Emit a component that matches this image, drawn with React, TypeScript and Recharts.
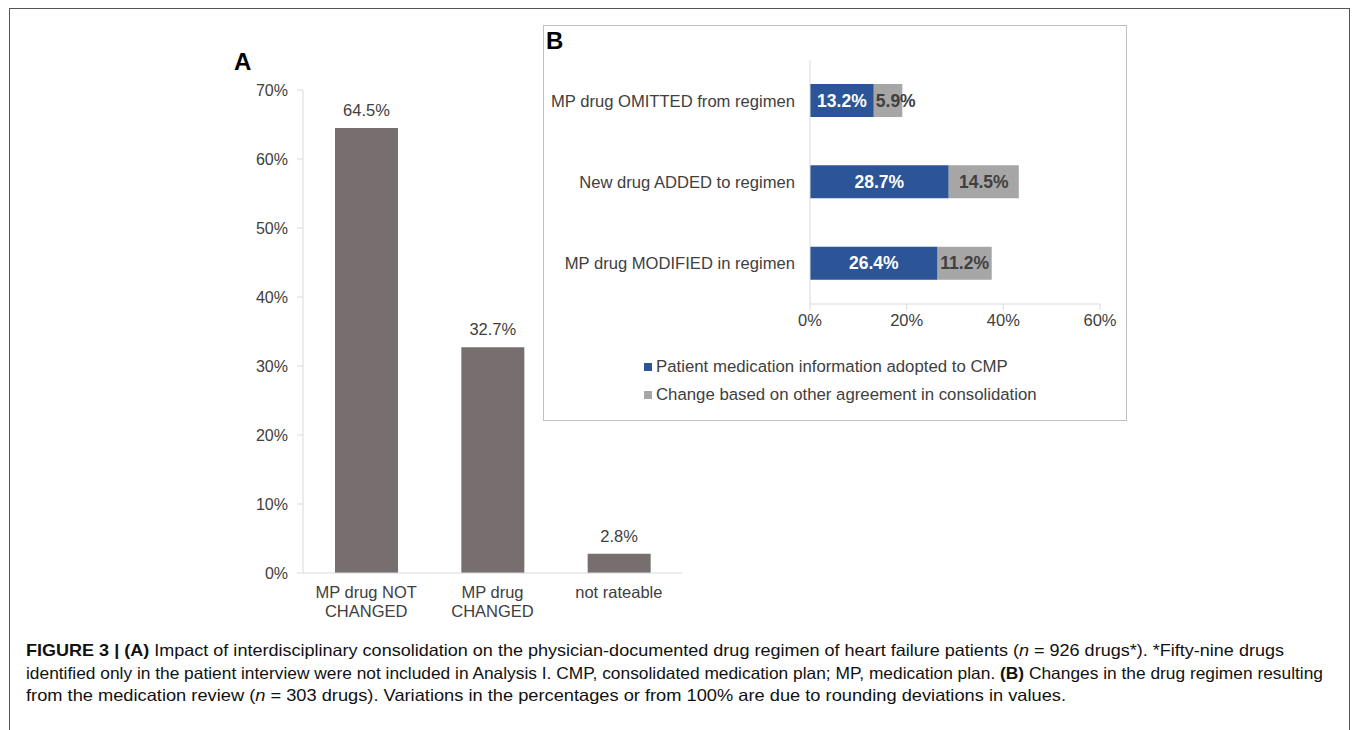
import { BarChart, Bar, XAxis, YAxis, LabelList } from 'recharts';

// Panel A: impact of consolidation on documented regimen
const categoriesA = ['MP drug NOT\nCHANGED', 'MP drug\nCHANGED', 'not rateable'];
const valuesA = [64.5, 32.7, 2.8];
const ticksA = [0, 10, 20, 30, 40, 50, 60, 70];

// Panel B: changes resulting from medication review
const categoriesB = ['MP drug OMITTED from regimen', 'New drug ADDED to regimen', 'MP drug MODIFIED in regimen'];
const adoptedB = [13.2, 28.7, 26.4];
const otherB = [5.9, 14.5, 11.2];
const ticksB = [0, 20, 40, 60];
const seriesNamesB = ['Patient medication information adopted to CMP', 'Change based on other agreement in consolidation'];

const captionLines = [
  [
    { t: 'FIGURE 3 | (A)', b: true },
    { t: ' Impact of interdisciplinary consolidation on the physician-documented drug regimen of heart failure patients (' },
    { t: 'n', i: true },
    { t: ' = 926 drugs*). *Fifty-nine drugs' },
  ],
  [
    { t: 'identified only in the patient interview were not included in Analysis I. CMP, consolidated medication plan; MP, medication plan. ' },
    { t: '(B)', b: true },
    { t: ' Changes in the drug regimen resulting' },
  ],
  [
    { t: 'from the medication review (' },
    { t: 'n', i: true },
    { t: ' = 303 drugs). Variations in the percentages or from 100% are due to rounding deviations in values.' },
  ],
];
const captionEnds = [1284, 1323, 1066];

const dataA = categoriesA.map((name, i) => ({ name, value: valuesA[i] }));
const dataB = categoriesB.map((name, i) => ({ name, adopted: adoptedB[i], other: otherB[i] }));

const BLUE = '#2b5596';
const GRAY = '#a6a6a6';
const BROWN = '#766e6f';
const TEXT = '#404040';
const AXIS = '#d9d9d9';
const pct = (v: number) => `${v}%`;

const TwoLineTick = (props: any) => {
  const { x, y, payload } = props;
  const lines = String(payload.value).split('\n');
  return (
    <text x={x} y={y} textAnchor="middle" fill={TEXT} fontSize={16.5}>
      {lines.map((l, i) => (
        <tspan key={i} x={x} dy={i === 0 ? 17 : 19}>{l}</tspan>
      ))}
    </text>
  );
};

// centred label, but pushed to start of segment when the text is wider than the bar (like Excel)
const SegmentLabel = (props: any) => {
  const { x, y, width, height, value, textColor } = props;
  const approxW = String(value).length * 9.5 + 4;
  const narrow = width < approxW;
  return (
    <text
      x={narrow ? x + 2 : x + width / 2}
      y={y + height / 2}
      textAnchor={narrow ? 'start' : 'middle'}
      dominantBaseline="central"
      fill={textColor}
      fontSize={17.5}
      fontWeight="bold"
    >
      {pct(value)}
    </text>
  );
};

export default function App() {
  return (
    <div style={{ position: 'absolute', left: 0, top: 0, width: 1355, height: 730, background: '#fff', fontFamily: '"Liberation Sans", Arial, sans-serif', overflow: 'hidden' }}>
      {/* outer frame */}
      <div style={{ position: 'absolute', left: 9, top: 8, width: 1341, height: 740, border: '1px solid #555', boxSizing: 'border-box' }} />

      <div style={{ position: 'absolute', left: 234, top: 48, fontSize: 24, fontWeight: 'bold', color: '#000' }}>A</div>
      <div style={{ position: 'absolute', left: 0, top: 0 }}>
        <BarChart width={700} height={640} data={dataA} margin={{ top: 90, right: 18, bottom: 37, left: 0 }}>
          <XAxis dataKey="name" height={30} axisLine={{ stroke: AXIS }} tickLine={false} tick={<TwoLineTick />} interval={0} />
          <YAxis
            width={303}
            domain={[0, 70]}
            ticks={ticksA}
            tickFormatter={pct}
            axisLine={{ stroke: AXIS }}
            tickLine={{ stroke: AXIS }}
            tickSize={6}
            tickMargin={9}
            tick={{ fill: TEXT, fontSize: 16 }}
          />
          <Bar dataKey="value" fill={BROWN} barSize={63} isAnimationActive={false}>
            <LabelList dataKey="value" position="top" offset={12} formatter={(v: any) => pct(v)} fill={TEXT} fontSize={16.5} />
          </Bar>
        </BarChart>
      </div>

      {/* panel B */}
      <div style={{ position: 'absolute', left: 543, top: 25, width: 584, height: 396, border: '1px solid #bfbfbf', boxSizing: 'border-box', background: '#fff' }}>
        <div style={{ position: 'absolute', left: 2, top: 1, fontSize: 24, fontWeight: 'bold', color: '#000', zIndex: 2 }}>B</div>
        <BarChart width={582} height={394} data={dataB} layout="vertical" margin={{ top: 34, right: 26, bottom: 86, left: 0 }}>
          <XAxis
            type="number"
            domain={[0, 60]}
            ticks={ticksB}
            tickFormatter={pct}
            axisLine={{ stroke: AXIS }}
            tickLine={{ stroke: AXIS }}
            tickSize={6}
            tickMargin={4}
            tick={{ fill: TEXT, fontSize: 16.5 }}
            height={30}
          />
          <YAxis
            type="category"
            dataKey="name"
            width={266}
            axisLine={{ stroke: AXIS }}
            tickLine={false}
            tickSize={0}
            tickMargin={15}
            tick={{ fill: TEXT, fontSize: 16.6 }}
          />
          <Bar dataKey="adopted" name={seriesNamesB[0]} stackId="s" fill={BLUE} barSize={33} isAnimationActive={false}>
            <LabelList dataKey="adopted" content={<SegmentLabel textColor="#ffffff" />} />
          </Bar>
          <Bar dataKey="other" name={seriesNamesB[1]} stackId="s" fill={GRAY} barSize={33} isAnimationActive={false}>
            <LabelList dataKey="other" content={<SegmentLabel textColor={TEXT} />} />
          </Bar>
        </BarChart>
        {/* legend */}
        <div style={{ position: 'absolute', left: 100, top: 327, fontSize: 16.8, color: TEXT, lineHeight: '28px', whiteSpace: 'nowrap' }}>
          {seriesNamesB.map((n, i) => (
            <div key={n} style={{ display: 'flex', alignItems: 'center' }}>
              <span style={{ width: 8, height: 8, background: i === 0 ? BLUE : GRAY, marginRight: 4, display: 'inline-block' }} />
              {n}
            </div>
          ))}
        </div>
      </div>

      {/* caption */}
      <svg width={1355} height={730} style={{ position: 'absolute', left: 0, top: 0, pointerEvents: 'none' }}>
        {captionLines.map((parts, li) => (
          <text
            key={li}
            x={26}
            y={656 + li * 22.5}
            fontSize={16.5}
            fill="#111"
            textLength={captionEnds[li] - 26}
            lengthAdjust="spacingAndGlyphs"
          >
            {parts.map((p: any, pi) => (
              <tspan key={pi} fontWeight={p.b ? 'bold' : 'normal'} fontStyle={p.i ? 'italic' : 'normal'}>{p.t}</tspan>
            ))}
          </text>
        ))}
      </svg>
    </div>
  );
}
